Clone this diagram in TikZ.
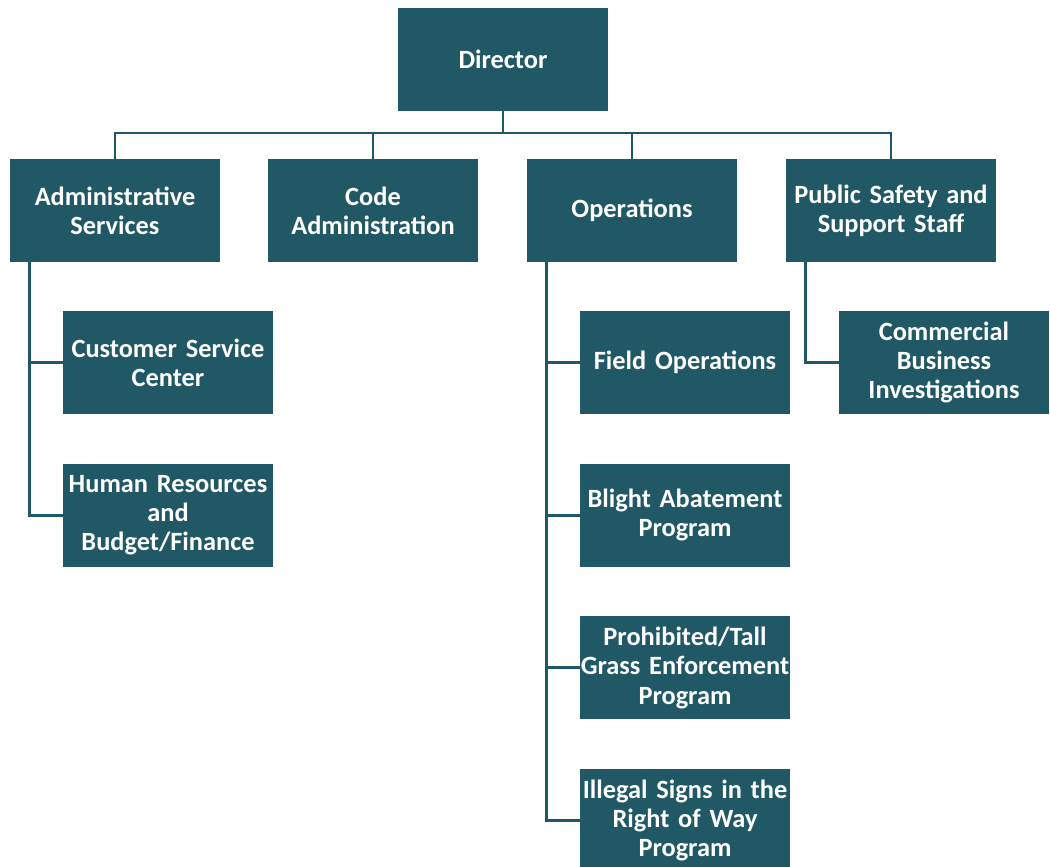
\documentclass[tikz,border=0pt]{standalone}
\usepackage{fontspec}
\setmainfont{Carlito}
\usetikzlibrary{positioning, calc}
\definecolor{unitteal}{RGB}{33,88,102}

\begin{document}
\begin{tikzpicture}[
		unit/.style={rectangle, fill=unitteal, text=white, font=\bfseries\fontsize{15}{16.6}\selectfont,
			align=center, text width=4.2cm, minimum width=4.2cm, minimum height=2.06cm, inner sep=0pt},
		link/.style={draw=unitteal, line width=1.7pt}
	]
		\useasboundingbox (0,0) rectangle (21,-17.34);
		
		\node[unit]			(director)	at (10.06,-1.18)	{Director};
		
		\node[unit]			(admin)		at (2.30,-4.21)		{Administrative\\Services};
		\node[unit]			(code)		at (7.46,-4.21)		{Code\\Administration};
		\node[unit]			(ops)		at (12.64,-4.21)	{Operations};
		\node[unit]			(psafe)		at (17.82,-4.21)	{Public Safety and\\Support Staff};
		
		\node[unit]			(customer)	at (3.36,-7.25)		{Customer Service\\Center};
		\node[unit]			(hr)		[below=0.98 of customer]	{Human Resources\\and\\Budget/Finance};
		
		\node[unit]			(field)		at (13.70,-7.25)	{Field Operations};
		\node[unit]			(blight)	[below=0.98 of field]	{Blight Abatement\\Program};
		\node[unit]			(grass)		[below=0.98 of blight]	{Prohibited/Tall\\Grass Enforcement\\Program};
		\node[unit]			(signs)		[below=0.98 of grass]	{Illegal Signs in the\\Right of Way\\Program};
		
		\node[unit]			(commercial) at (18.88,-7.25)	{Commercial\\Business\\Investigations};
		
		% top level bus
		\coordinate (bus) at (10.06,-2.66);
		\draw[link] (director.south) -- (bus);
		\draw[link] (admin.north) |- (bus) -| (psafe.north);
		\draw[link] (code.north) -- (code.north |- bus);
		\draw[link] (ops.north) -- (ops.north |- bus);
		
		% trunks down the left side
		\coordinate (admin trunk) at ([xshift=0.4cm]admin.south west);
		\draw[link] (admin trunk) |- (customer.west);
		\draw[link] (admin trunk) |- (hr.west);
		
		\coordinate (ops trunk) at ([xshift=0.4cm]ops.south west);
		\draw[link] (ops trunk) |- (field.west);
		\draw[link] (ops trunk) |- (blight.west);
		\draw[link] (ops trunk) |- (grass.west);
		\draw[link] (ops trunk) |- (signs.west);
		
		\coordinate (psafe trunk) at ([xshift=0.4cm]psafe.south west);
		\draw[link] (psafe trunk) |- (commercial.west);
		
\end{tikzpicture}
\end{document}
